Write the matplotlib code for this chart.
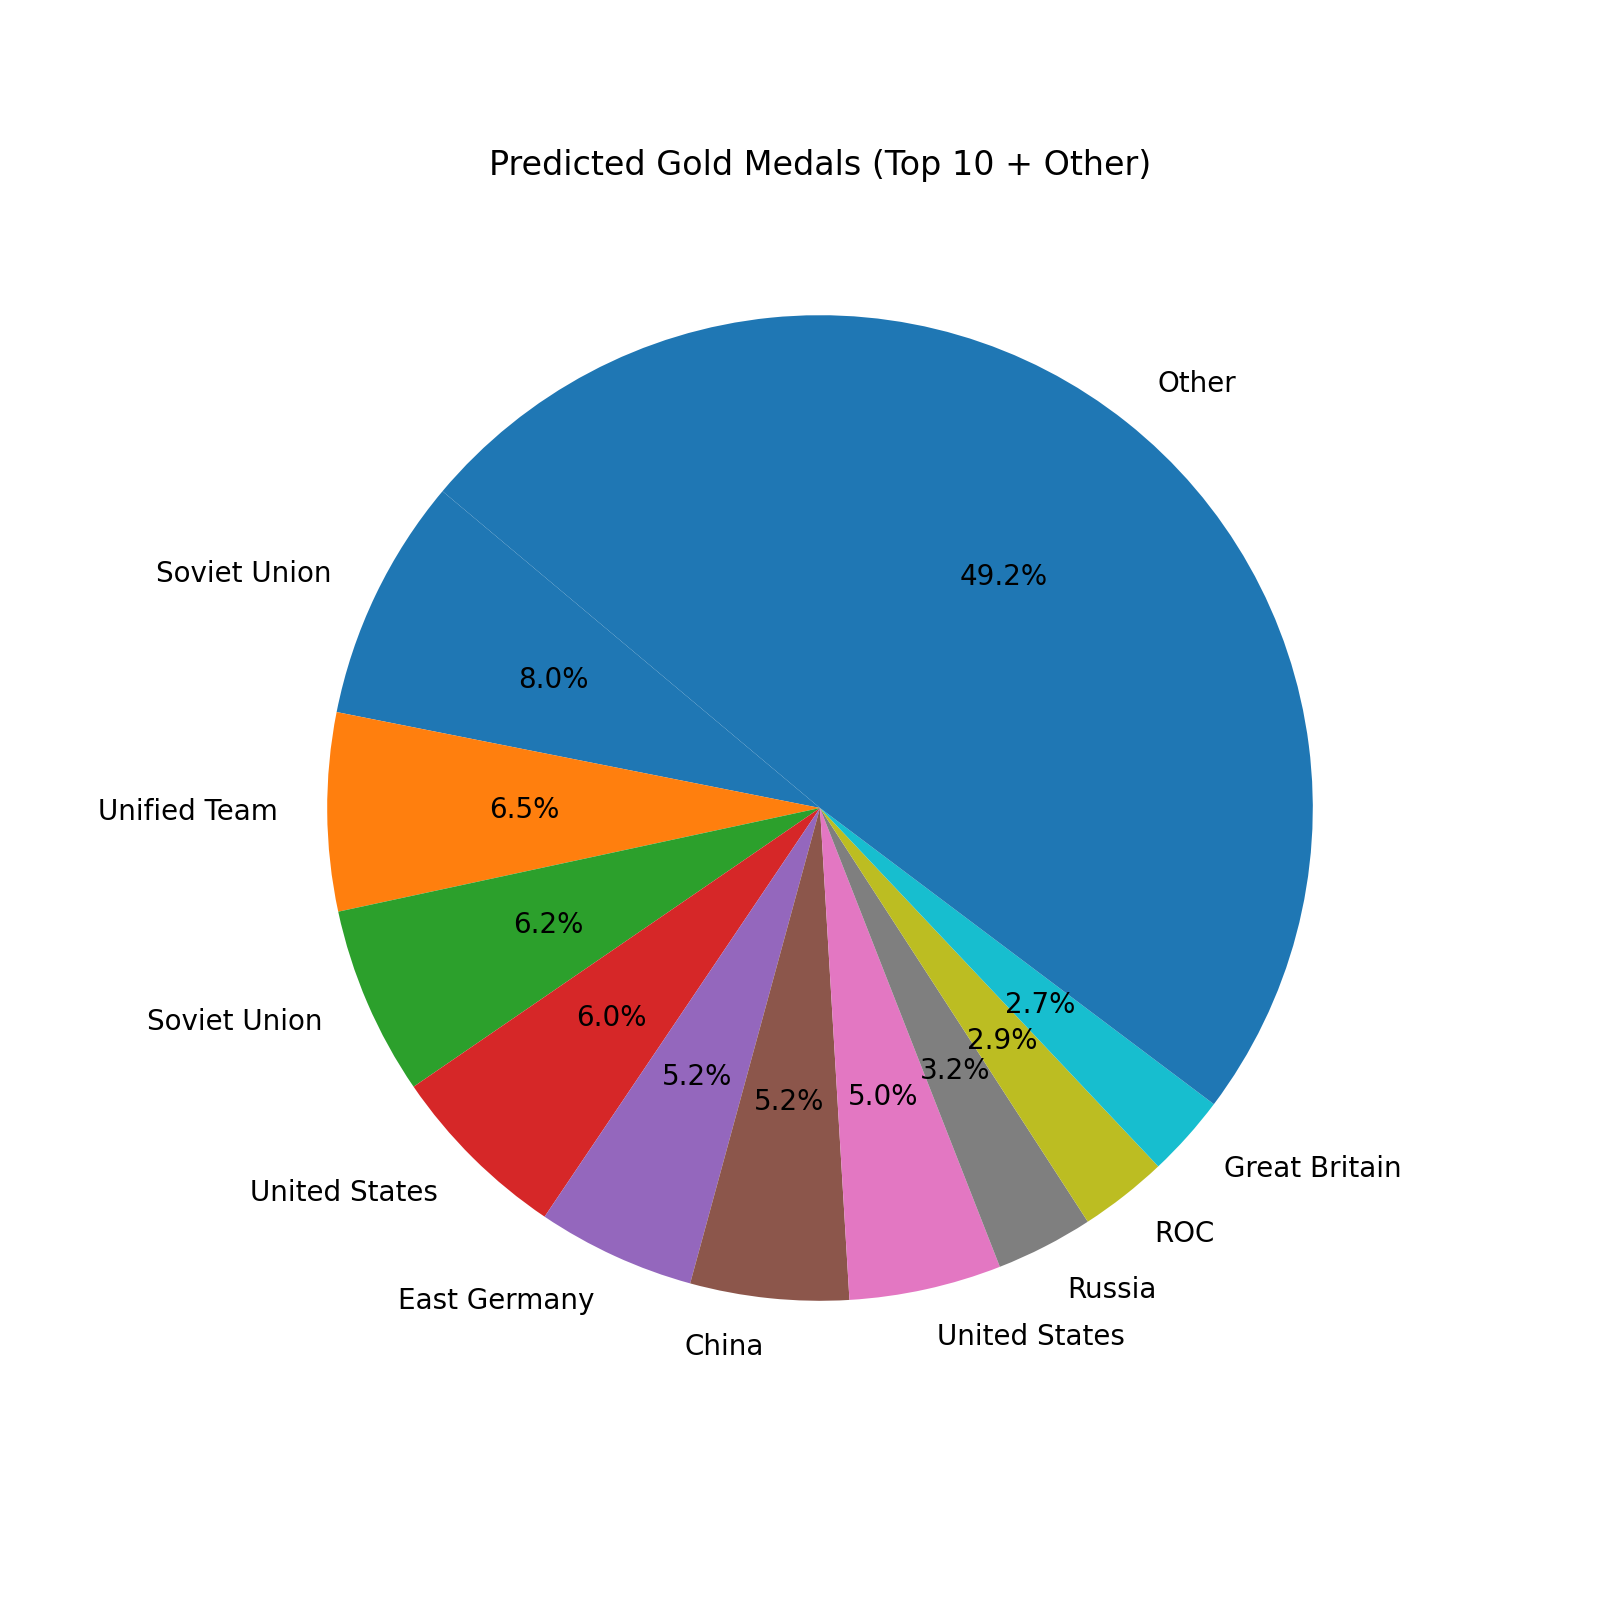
import matplotlib
matplotlib.use("Agg")
import matplotlib.pyplot as plt

# predicted gold medals, top 10 plus the rest
countries = ['Soviet Union', 'Unified Team', 'Soviet Union', 'United States',
             'East Germany', 'China', 'United States', 'Russia', 'ROC',
             'Great Britain', 'Other']
shares = [8.0, 6.5, 6.2, 6.0, 5.2, 5.2, 5.0, 3.2, 2.9, 2.7, 49.2]

fig = plt.figure(figsize=(8, 8), dpi=200)
plt.pie(shares, labels=countries, autopct='%1.1f%%', startangle=140)
plt.title('Predicted Gold Medals (Top 10 + Other)')
plt.savefig('out.png', dpi=200)
